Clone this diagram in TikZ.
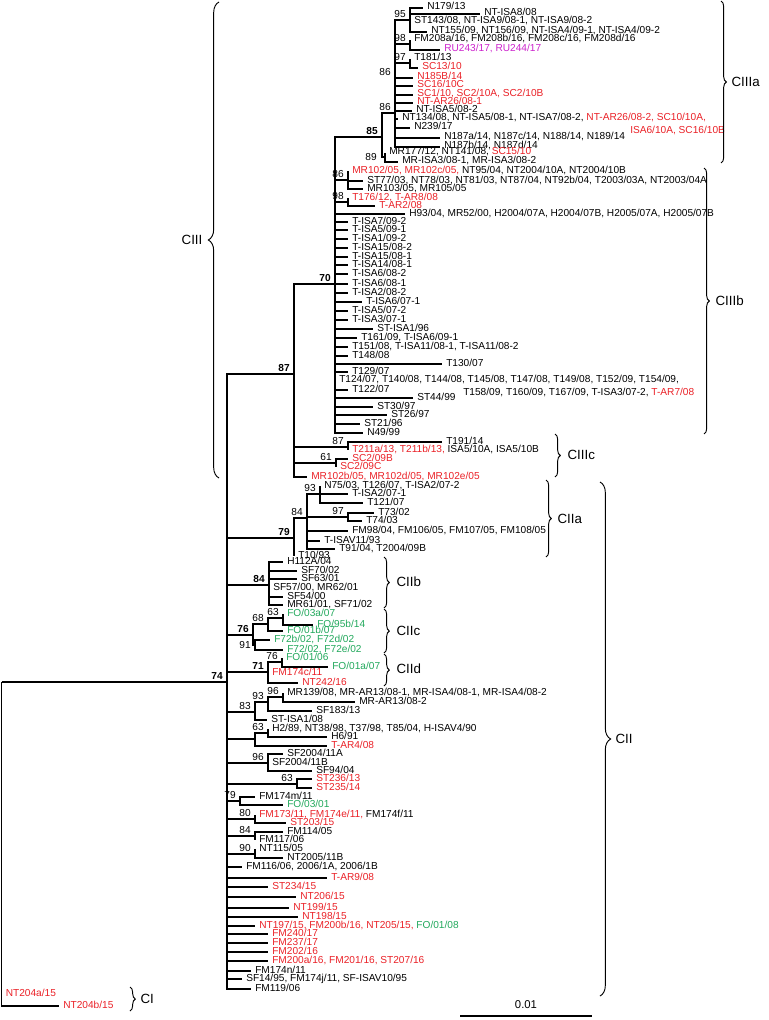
\documentclass[tikz,border=0pt]{standalone}
\usepackage{fontspec}
\setmainfont{Liberation Sans}
\usetikzlibrary{calc,decorations.pathreplacing}

\definecolor{isored}{RGB}{234,33,39}
\definecolor{isogreen}{RGB}{34,168,92}
\definecolor{isopink}{RGB}{204,36,204}
\newcommand{\rd}[1]{\textcolor{isored}{#1}}
\newcommand{\gn}[1]{\textcolor{isogreen}{#1}}

\begin{document}
\begin{tikzpicture}[
    x=0.75pt, y=-0.75pt,
    br/.style={line width=0.9pt},
    leaf/.style={anchor=west, inner xsep=3pt, inner ysep=0pt, text height=5pt, text depth=2pt, font=\fontsize{7.6}{8.6}\selectfont},
    redleaf/.style={leaf, text=isored},
    grnleaf/.style={leaf, text=isogreen},
    bs/.style={anchor=south east, inner sep=1pt, xshift=-2pt, yshift=0.5pt, font=\fontsize{7.6}{8.6}\selectfont},
    bsb/.style={bs, font=\fontsize{7.6}{8.6}\selectfont\bfseries},
    clade/.style={anchor=west, inner sep=1pt, font=\fontsize{10}{12}\selectfont},
    cbrace/.style={decorate, decoration={brace, amplitude=4pt}, line width=0.7pt},
    bigbrace/.style={decorate, decoration={brace, amplitude=8pt}, line width=0.7pt}
]
\useasboundingbox (0,0) rectangle (768,1020);

% internal nodes
\coordinate (root) at (1.5,682);
\coordinate (n74) at (227,682);
\coordinate (n87) at (294,374);
\coordinate (n70) at (335,284);
\coordinate (n85) at (382,137);
\coordinate (n86a) at (395,113);
\coordinate (n95) at (410,20);
\coordinate (n98) at (410,44);
\coordinate (n97) at (410,63);
\coordinate (n89) at (385,157);
\coordinate (n86c) at (348,180);
\coordinate (n98c) at (348,202);
\coordinate (n87c) at (348,447);
\coordinate (n61) at (336,463);
\coordinate (n79) at (294,538);
\coordinate (n84) at (307,518);
\coordinate (n93) at (320,494);
\coordinate (n97c) at (348,517);
\coordinate (n84b) at (269,585);
\coordinate (n76) at (253,635);
\coordinate (n68) at (268,624);
\coordinate (n63c) at (283,618);
\coordinate (n91) at (255,645);
\coordinate (n71) at (268,672);
\coordinate (n76b) at (282,662);
\coordinate (n83) at (255,712);
\coordinate (n93b) at (268,702);
\coordinate (n96) at (283,697);
\coordinate (nh2) at (255,739);
\coordinate (n63b) at (268,733);
\coordinate (n96b) at (268,763);
\coordinate (n63d) at (297,784);
\coordinate (n79b) at (240,801);
\coordinate (n80) at (255,819);
\coordinate (n84c) at (255,836);
\coordinate (n90) at (255,854);

% CIIIa
\node[leaf] (a01) at (423,8) {N179/13};
\node[leaf] (a02) at (480,14) {NT-ISA8/08};
\node[leaf] (a03) at (410,22) {ST143/08, NT-ISA9/08-1, NT-ISA9/08-2};
\node[leaf] (a04) at (427,32) {NT155/09, NT156/09, NT-ISA4/09-1, NT-ISA4/09-2};
\node[leaf] (a05) at (410,40) {FM208a/16, FM208b/16, FM208c/16, FM208d/16};
\node[leaf, text=isopink] (a06) at (440,50) {RU243/17, RU244/17};
\node[leaf] (a07) at (410,59) {T181/13};
\node[redleaf] (a08) at (418,68) {SC13/10};
\node[redleaf] (a09) at (413,78) {N185B/14};
\node[redleaf] (a10) at (413,86) {SC16/10C};
\node[redleaf] (a11) at (413,95) {SC1/10, SC2/10A, SC2/10B};
\node[redleaf] (a12) at (413,103) {NT-AR26/08-1};
\node[leaf] (a13) at (412,111) {NT-ISA5/08-2};
\node[leaf] (a14) at (398,119) {NT134/08, NT-ISA5/08-1, NT-ISA7/08-2, \rd{NT-AR26/08-2, SC10/10A,}};
\node[redleaf] (a14b) at (626,132) {ISA6/10A, SC16/10B};
\node[leaf] (a15) at (410,128) {N239/17};
\node[leaf] (a16) at (440,138) {N187a/14, N187c/14, N188/14, N189/14};
\node[leaf] (a17) at (440,147) {N187b/14, N187d/14};
\node[leaf] (a18) at (385,153) {MR177/12, NT141/08, \rd{SC15/10}};
\node[leaf] (a19) at (398,162) {MR-ISA3/08-1, MR-ISA3/08-2};

% CIIIb
\node[leaf] (b01) at (348,171) {\rd{MR102/05, MR102c/05,} NT95/04, NT2004/10A, NT2004/10B};
\node[leaf] (b02) at (363,181) {ST77/03, NT78/03, NT81/03, NT87/04, NT92b/04, T2003/03A, NT2003/04A};
\node[leaf] (b03) at (363,189) {MR103/05, MR105/05};
\node[redleaf] (b04) at (348,198) {T176/12, T-AR8/08};
\node[redleaf] (b05) at (375,206) {T-AR2/08};
\node[leaf] (b06) at (405,214) {H93/04, MR52/00, H2004/07A, H2004/07B, H2005/07A, H2005/07B};
\node[leaf] (b07) at (348,222) {T-ISA7/09-2};
\node[leaf] (b08) at (348,230) {T-ISA5/09-1};
\node[leaf] (b09) at (348,239) {T-ISA1/09-2};
\node[leaf] (b10) at (348,248) {T-ISA15/08-2};
\node[leaf] (b11) at (348,257) {T-ISA15/08-1};
\node[leaf] (b12) at (348,265) {T-ISA14/08-1};
\node[leaf] (b13) at (348,274) {T-ISA6/08-2};
\node[leaf] (b14) at (348,284) {T-ISA6/08-1};
\node[leaf] (b15) at (348,293) {T-ISA2/08-2};
\node[leaf] (b16) at (362,302) {T-ISA6/07-1};
\node[leaf] (b17) at (348,311) {T-ISA5/07-2};
\node[leaf] (b18) at (348,320) {T-ISA3/07-1};
\node[leaf] (b19) at (373,329) {ST-ISA1/96};
\node[leaf] (b20) at (357,338) {T161/09, T-ISA6/09-1};
\node[leaf] (b21) at (348,347) {T151/08, T-ISA11/08-1, T-ISA11/08-2};
\node[leaf] (b22) at (348,356) {T148/08};
\node[leaf] (b23) at (442,364) {T130/07};
\node[leaf] (b24) at (348,372) {T129/07};
\node[leaf] (b25) at (335,380) {T124/07, T140/08, T144/08, T145/08, T147/08, T149/08, T152/09, T154/09,};
\node[leaf] (b25b) at (459,393) {T158/09, T160/09, T167/09, T-ISA3/07-2, \rd{T-AR7/08}};
\node[leaf] (b26) at (348,390) {T122/07};
\node[leaf] (b27) at (413,398) {ST44/99};
\node[leaf] (b28) at (373,407) {ST30/97};
\node[leaf] (b29) at (387,415) {ST26/97};
\node[leaf] (b30) at (360,424) {ST21/96};
\node[leaf] (b31) at (363,433) {N49/99};

% CIIIc
\node[leaf] (c01) at (442,442) {T191/14};
\node[leaf] (c02) at (348,450) {\rd{T211a/13, T211b/13,} ISA5/10A, ISA5/10B};
\node[redleaf] (c03) at (348,459) {SC2/09B};
\node[redleaf] (c04) at (336,467) {SC2/09C};
\node[redleaf] (c05) at (307,477) {MR102b/05, MR102d/05, MR102e/05};

% CII
\node[leaf] (d01) at (320,486) {N75/03, T126/07, T-ISA2/07-2};
\node[leaf] (d02) at (348,494) {T-ISA2/07-1};
\node[leaf] (d03) at (363,503) {T121/07};
\node[leaf] (d04) at (374,513) {T73/02};
\node[leaf] (d05) at (362,521) {T74/03};
\node[leaf] (d06) at (348,531) {FM98/04, FM106/05, FM107/05, FM108/05};
\node[leaf] (d07) at (320,541) {T-ISAV11/93};
\node[leaf] (d08) at (335,549) {T91/04, T2004/09B};
\node[leaf] (d09) at (294,556) {T10/93};
\node[leaf] (d10) at (283,562) {H112A/04};
\node[leaf] (d11) at (297,571) {SF70/02};
\node[leaf] (d12) at (297,579) {SF63/01};
\node[leaf] (d13) at (269,588) {SF57/00, MR62/01};
\node[leaf] (d14) at (283,597) {SF54/00};
\node[leaf] (d15) at (283,605) {MR61/01, SF71/02};
\node[grnleaf] (d16) at (283,614) {FO/03a/07};
\node[grnleaf] (d17) at (313,625) {FO/95b/14};
\node[grnleaf] (d18) at (283,631) {FO/01b/07};
\node[grnleaf] (d19) at (270,640) {F72b/02, F72d/02};
\node[grnleaf] (d20) at (283,650) {F72/02, F72e/02};
\node[grnleaf] (d21) at (282,658) {FO/01/06};
\node[grnleaf] (d22) at (328,667) {FO/01a/07};
\node[redleaf] (d23) at (268,673) {FM174c/11};
\node[redleaf] (d24) at (298,683) {NT242/16};
\node[leaf] (d25) at (283,693) {MR139/08, MR-AR13/08-1, MR-ISA4/08-1, MR-ISA4/08-2};
\node[leaf] (d26) at (355,702) {MR-AR13/08-2};
\node[leaf] (d27) at (312,711) {SF183/13};
\node[leaf] (d28) at (267,720) {ST-ISA1/08};
\node[leaf] (d29) at (268,729) {H2/89, NT38/98, T37/98, T85/04, H-ISAV4/90};
\node[leaf] (d30) at (327,737) {H6/91};
\node[redleaf] (d31) at (327,746) {T-AR4/08};
\node[leaf] (d32) at (283,754) {SF2004/11A};
\node[leaf] (d33) at (268,763) {SF2004/11B};
\node[leaf] (d34) at (312,771) {SF94/04};
\node[redleaf] (d35) at (312,779) {ST236/13};
\node[redleaf] (d36) at (312,788) {ST235/14};
\node[leaf] (d37) at (255,797) {FM174m/11};
\node[grnleaf] (d38) at (283,805) {FO/03/01};
\node[leaf] (d39) at (255,815) {\rd{FM173/11, FM174e/11,} FM174f/11};
\node[redleaf] (d40) at (286,823) {ST203/15};
\node[leaf] (d41) at (283,832) {FM114/05};
\node[leaf] (d42) at (255,840) {FM117/06};
\node[leaf] (d43) at (255,849) {NT115/05};
\node[leaf] (d44) at (283,858) {NT2005/11B};
\node[leaf] (d45) at (242,867) {FM116/06, 2006/1A, 2006/1B};
\node[redleaf] (d46) at (327,878) {T-AR9/08};
\node[redleaf] (d47) at (268,887) {ST234/15};
\node[redleaf] (d48) at (296,897) {NT206/15};
\node[redleaf] (d49) at (289,908) {NT199/15};
\node[redleaf] (d50) at (298,917) {NT198/15};
\node[leaf] (d51) at (255,926) {\rd{NT197/15, FM200b/16, NT205/15,} \gn{FO/01/08}};
\node[redleaf] (d52) at (268,934) {FM240/17};
\node[redleaf] (d53) at (268,943) {FM237/17};
\node[redleaf] (d54) at (268,952) {FM202/16};
\node[redleaf] (d55) at (268,961) {FM200a/16, FM201/16, ST207/16};
\node[leaf] (d56) at (251,971) {FM174n/11};
\node[leaf] (d57) at (242,979) {SF14/95, FM174j/11, SF-ISAV10/95};
\node[leaf] (d58) at (251,989) {FM119/06};

% CI
\node[redleaf] (e01) at (1.5,994) {NT204a/15};
\node[redleaf] (e02) at (59,1006) {NT204b/15};

\foreach \p/\c in {root/n74, root/e01, root/e02,
    n74/n87, n74/n79, n74/n84b, n74/n76, n74/n71, n74/n83, n74/nh2, n74/n96b, n74/n63d, n74/n79b, n74/n80, n74/n84c, n74/n90,
    n74/d45, n74/d46, n74/d47, n74/d48, n74/d49, n74/d50, n74/d51, n74/d52, n74/d53, n74/d54, n74/d55, n74/d56, n74/d57, n74/d58,
    n87/n70, n87/n87c, n87/n61, n87/c05,
    n70/n85, n70/n86c, n70/n98c, n70/b06, n70/b07, n70/b08, n70/b09, n70/b10, n70/b11, n70/b12, n70/b13, n70/b14, n70/b15,
    n70/b16, n70/b17, n70/b18, n70/b19, n70/b20, n70/b21, n70/b22, n70/b23, n70/b24, n70/b25, n70/b26, n70/b27, n70/b28,
    n70/b29, n70/b30, n70/b31,
    n85/n86a, n85/n89,
    n86a/n95, n86a/n98, n86a/n97, n86a/a09, n86a/a10, n86a/a11, n86a/a12, n86a/a13, n86a/a14, n86a/a15, n86a/a16, n86a/a17,
    n95/a01, n95/a02, n95/a03, n95/a04, n98/a05, n98/a06, n97/a07, n97/a08, n89/a18, n89/a19,
    n86c/b01, n86c/b02, n86c/b03, n98c/b04, n98c/b05,
    n87c/c01, n87c/c02, n61/c03, n61/c04,
    n79/n84, n79/d09, n84/n93, n84/n97c, n84/d06, n84/d07, n84/d08,
    n93/d01, n93/d02, n93/d03, n97c/d04, n97c/d05,
    n84b/d10, n84b/d11, n84b/d12, n84b/d13, n84b/d14, n84b/d15,
    n76/n68, n76/n91, n68/n63c, n68/d18, n63c/d16, n63c/d17, n91/d19, n91/d20,
    n71/n76b, n71/d23, n71/d24, n76b/d21, n76b/d22,
    n83/n93b, n83/d28, n93b/n96, n93b/d27, n96/d25, n96/d26,
    nh2/n63b, nh2/d31, n63b/d29, n63b/d30,
    n96b/d32, n96b/d33, n96b/d34, n63d/d35, n63d/d36, n79b/d37, n79b/d38,
    n80/d39, n80/d40, n84c/d41, n84c/d42, n90/d43, n90/d44}
  \draw[br] (\p) |- (\c);

% bootstrap values
\node[bs] (v95) at (n95) {95};
\node[bs] (v98) at (n98) {98};
\node[bs] (v97) at (n97) {97};
\node[bs] (v86x) at (395,78) {86};
\node[bs] (v86a) at (n86a) {86};
\node[bsb] (v85) at (n85) {85};
\node[bs, anchor=east, yshift=-0.5pt] (v89) at (381,157) {89};
\node[bs] (v86c) at (n86c) {86};
\node[bs] (v98c) at (n98c) {98};
\node[bsb] (v70) at (n70) {70};
\node[bsb] (v87) at (n87) {87};
\node[bs] (v87c) at (n87c) {87};
\node[bs] (v61) at (n61) {61};
\node[bsb] (v74) at (n74) {74};
\node[bsb] (v79) at (n79) {79};
\node[bs] (v84) at (n84) {84};
\node[bs] (v93) at (n93) {93};
\node[bs] (v97c) at (n97c) {97};
\node[bsb] (v84b) at (n84b) {84};
\node[bsb] (v76) at (n76) {76};
\node[bs] (v68) at (n68) {68};
\node[bs] (v63c) at (n63c) {63};
\node[bs, anchor=east, yshift=-0.5pt] (v91) at (n91) {91};
\node[bsb] (v71) at (n71) {71};
\node[bs] (v76b) at (n76b) {76};
\node[bs] (v83) at (n83) {83};
\node[bs] (v93b) at (n93b) {93};
\node[bs] (v96) at (n96) {96};
\node[bs] (v63b) at (n63b) {63};
\node[bs] (v96b) at (n96b) {96};
\node[bs] (v63d) at (n63d) {63};
\node[bs] (v79b) at (n79b) {79};
\node[bs] (v80) at (n80) {80};
\node[bs] (v84c) at (n84c) {84};
\node[bs] (v90) at (n90) {90};

% clades
\draw[bigbrace] (219,478) -- (219,2);
\node[clade, anchor=east] (cIII) at (204,240) {CIII};
\draw[cbrace] (721,1) -- (721,163);
\node[clade] (cIIIa) at (730,82) {CIIIa};
\draw[cbrace] (704,168) -- (704,434);
\node[clade] (cIIIb) at (714,301) {CIIIb};
\draw[cbrace] (555,434) -- (555,477);
\node[clade] (cIIIc) at (566,455) {CIIIc};
\draw[cbrace] (546,480) -- (546,557);
\node[clade] (cIIa) at (556,519) {CIIa};
\draw[cbrace] (384,557) -- (384,608);
\node[clade] (cIIb) at (395,582) {CIIb};
\draw[cbrace] (384,609) -- (384,653);
\node[clade] (cIIc) at (395,631) {CIIc};
\draw[cbrace] (384,654) -- (384,686);
\node[clade] (cIId) at (395,669) {CIId};
\draw[bigbrace] (600,482) -- (600,996);
\node[clade] (cII) at (614,739) {CII};
\draw[cbrace] (130,987) -- (130,1011);
\node[clade] (cI) at (139,999) {CI};

% scale bar
\coordinate (sbl) at (460,1016);
\coordinate (sbr) at (592,1016);
\draw[br] (sbl) -- (sbr);
\node[font=\fontsize{8.5}{10}\selectfont] (sbt) at (526,1005) {0.01};
\end{tikzpicture}
\end{document}
